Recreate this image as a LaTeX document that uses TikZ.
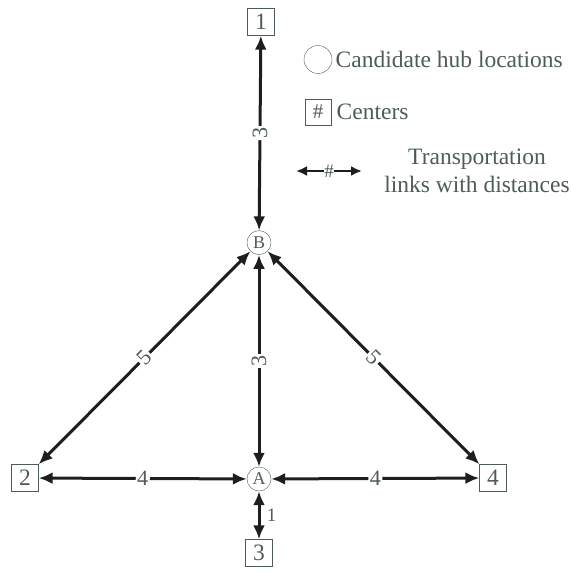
\documentclass[tikz,border=0pt]{standalone}
\usepackage{fontspec}
\setmainfont{Liberation Serif}
\usetikzlibrary{arrows.meta,positioning}
\definecolor{txtgray}{RGB}{78,92,88}
\definecolor{linkblack}{RGB}{30,30,30}

\begin{document}
\begin{tikzpicture}[
  x=1pt, y=1pt,
  font=\fontsize{23.5}{28}\selectfont, text=txtgray,
  center/.style={draw=txtgray, thin, minimum size=27pt, inner sep=0pt},
  hub/.style={circle, draw=txtgray, thin, minimum size=24pt, inner sep=0pt, font=\fontsize{18}{20}\selectfont},
  link/.style={{Latex[length=14pt,width=12pt]}-{Latex[length=14pt,width=12pt]}, line width=3pt, draw=linkblack},
  dist/.style={fill=white, sloped, inner sep=1.5pt, font=\fontsize{22}{24}\selectfont}
]
\useasboundingbox (0,0) rectangle (570,-572);
% network
\node[hub] (A) at (259,-479) {A};
\node[hub, above=212pt of A] (B) {B};
\node[center] (c1) at (261,-22) {1};
\node[center] (c2) at (25,-478) {2};
\node[center] (c3) at (259,-553) {3};
\node[center] (c4) at (493,-478) {4};
\draw[link] (B) -- node[dist] {3} (c1);
\draw[link] (A) -- node[dist] {3} (B);
\draw[link] (c2) -- node[dist] {5} (B);
\draw[link] (c4) -- node[dist] {5} (B);
\draw[link] (c2) -- node[dist] {4} (A);
\draw[link] (A) -- node[dist] {4} (c4);
\draw[link] (A) -- node[right=3pt, font=\fontsize{19}{20}\selectfont] {1} (c3);
% legend
\node[hub, minimum size=28pt] (lhub) at (318,-59.5) {};
\node[right=0pt of lhub] (lhubtxt) {Candidate hub locations};
\node[center, minimum size=26pt, font=\fontsize{21}{24}\selectfont] (lctr) at (318,-112) {\#};
\node[right=2pt of lctr] (lctrtxt) {Centers};
\coordinate (la) at (296,-171);
\coordinate (lb) at (362,-171);
\draw[link, {Latex[length=11pt,width=10pt]}-{Latex[length=11pt,width=10pt]}, line width=2.5pt] (la) -- node[fill=white, inner sep=0.5pt, font=\fontsize{19}{20}\selectfont] {\#} (lb);
\node[align=center] (llinktxt) at (477,-171) {Transportation\\links with distances};
\end{tikzpicture}
\end{document}
